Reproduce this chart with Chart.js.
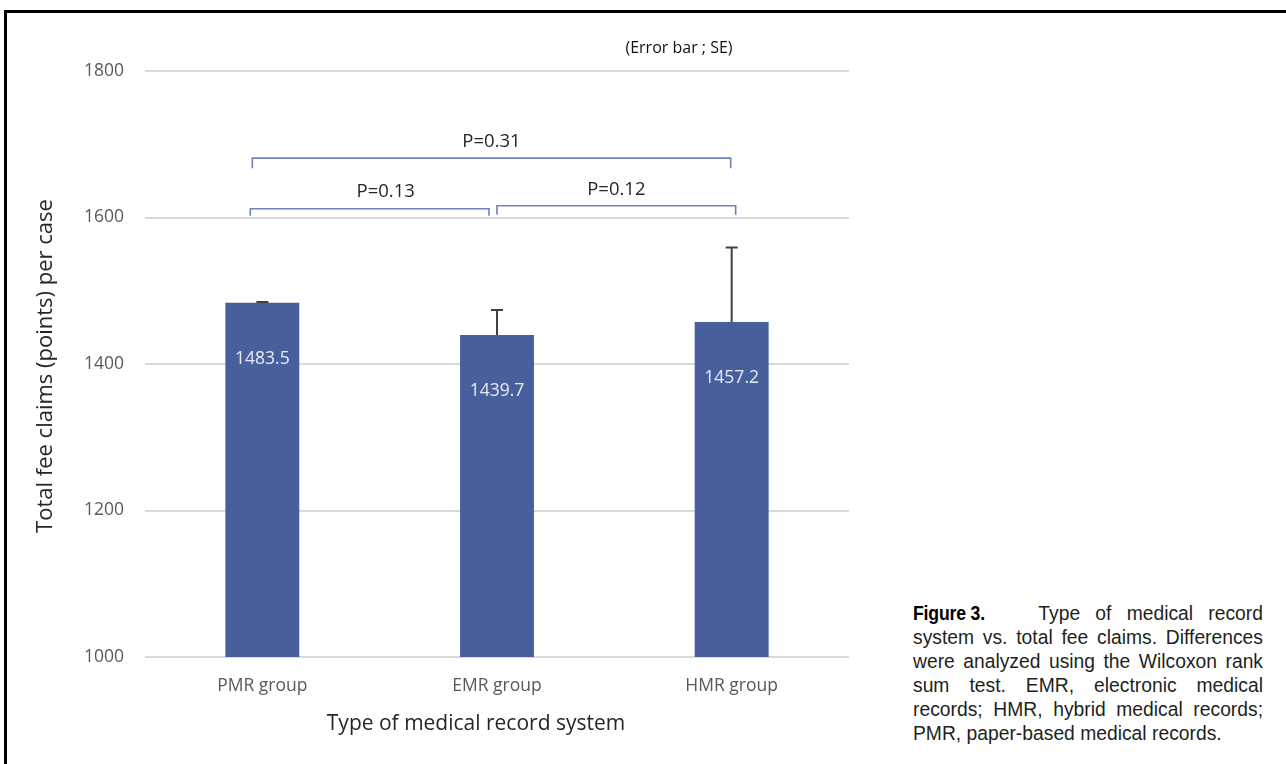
<!DOCTYPE html>
<html><head><meta charset="utf-8">
<script src="https://cdn.jsdelivr.net/npm/chart.js@4.4.0/dist/chart.umd.min.js"></script>
<style>
html,body{margin:0;padding:0;background:#fff;width:1286px;height:764px;overflow:hidden;}
#frame{position:absolute;left:4px;top:10px;width:1400px;height:900px;border:3px solid #000;box-sizing:border-box;}
#wrap{position:absolute;left:0;top:0;width:880px;height:764px;}
#caption{position:absolute;left:913px;top:601px;width:350px;font-family:"Liberation Sans",Arial,sans-serif;font-size:19.3px;line-height:24px;text-align:justify;color:#231f20;}
#fig{display:inline-block;width:80px;white-space:nowrap;vertical-align:baseline;}
#fig span{display:inline-block;font-weight:bold;font-size:20.5px;color:#000;transform:scaleX(0.86);transform-origin:left center;letter-spacing:-0.2px;}
</style></head>
<body>
<div id="frame"></div>
<div id="wrap"><canvas id="c" width="880" height="764"></canvas></div>
<div id="caption"><span id="fig"><span>Figure 3.</span></span>&nbsp;&nbsp; Type of medical record system vs. total fee claims. Differences were analyzed using the Wilcoxon rank sum test. EMR, electronic medical records; HMR, hybrid medical records; PMR, paper-based medical records.</div>
<script>
const categories = ['PMR group', 'EMR group', 'HMR group'];
const meanValues = [1483.5, 1439.7, 1457.2];
const seValues = [1, 34, 102];
const valueLabels = ['1483.5', '1439.7', '1457.2'];
const yTicks = [1000, 1200, 1400, 1600, 1800];
const compFrom = [0, 0, 1];
const compTo = [2, 1, 2];
const compLabels = ['P=0.31', 'P=0.13', 'P=0.12'];
const compLevels = [1681, 1612, 1616];

const FONT = '"Open Sans", "DejaVu Sans", sans-serif';
// styling nudges for the hand-drawn brackets (pixels)
const bracketStyle = [
  {dx1: -10, dx2: -1, tick: 10, tdx: 0, tdy: -16},
  {dx1: -12, dx2: -8, tick: 7, tdx: 16, tdy: -17},
  {dx1: 0, dx2: 4, tick: 9, tdx: 0, tdy: -16}
];

const overlay = {
  id: 'overlay',
  afterDatasetsDraw(chart) {
    const ctx = chart.ctx;
    const y = chart.scales.y;
    const area = chart.chartArea;
    const meta = chart.getDatasetMeta(0);
    ctx.save();
    // error bars
    ctx.strokeStyle = '#404040';
    ctx.lineWidth = 2;
    meta.data.forEach((bar, i) => {
      const top = y.getPixelForValue(meanValues[i] + seValues[i]);
      ctx.beginPath();
      ctx.moveTo(bar.x, bar.y);
      ctx.lineTo(bar.x, top);
      ctx.moveTo(bar.x - 6, top);
      ctx.lineTo(bar.x + 6, top);
      ctx.stroke();
    });
    // value labels inside bars
    ctx.fillStyle = '#e8ebf3';
    ctx.font = '17.5px ' + FONT;
    ctx.textAlign = 'center';
    ctx.textBaseline = 'middle';
    meta.data.forEach((bar, i) => {
      ctx.fillText(valueLabels[i], bar.x, bar.y + 56);
    });
    // significance brackets
    compLabels.forEach((lab, k) => {
      const st = bracketStyle[k];
      const x1 = meta.data[compFrom[k]].x + st.dx1;
      const x2 = meta.data[compTo[k]].x + st.dx2;
      const yl = y.getPixelForValue(compLevels[k]);
      ctx.strokeStyle = '#7081b6';
      ctx.lineWidth = 1.6;
      ctx.beginPath();
      ctx.moveTo(x1, yl + st.tick);
      ctx.lineTo(x1, yl);
      ctx.lineTo(x2, yl);
      ctx.lineTo(x2, yl + st.tick);
      ctx.stroke();
      ctx.fillStyle = '#262626';
      ctx.font = '18.5px ' + FONT;
      ctx.fillText(lab, (x1 + x2) / 2 + st.tdx, yl + st.tdy);
    });
    // note
    ctx.fillStyle = '#111';
    ctx.font = '16px ' + FONT;
    ctx.fillText('(Error bar ; SE)', 679, 48);
    // axis titles
    ctx.fillStyle = '#262626';
    ctx.font = '21px ' + FONT;
    ctx.fillText('Type of medical record system', 476, 724);
    ctx.font = '22px ' + FONT;
    ctx.translate(46, (area.top + area.bottom) / 2 + 2);
    ctx.rotate(-Math.PI / 2);
    ctx.fillText('Total fee claims (points) per case', 0, 0);
    ctx.restore();
  }
};

new Chart(document.getElementById('c'), {
  type: 'bar',
  data: {
    labels: categories,
    datasets: [{
      data: meanValues,
      backgroundColor: '#475f9c',
      borderWidth: 0,
      barPercentage: 0.315,
      categoryPercentage: 1
    }]
  },
  options: {
    responsive: false,
    animation: false,
    devicePixelRatio: 1,
    layout: {padding: {left: 0, top: 71, right: 31, bottom: 0}},
    plugins: {legend: {display: false}, tooltip: {enabled: false}},
    scales: {
      x: {
        grid: {display: false, drawTicks: false},
        border: {display: false},
        ticks: {color: '#595959', font: {family: FONT, size: 17.5}, padding: 19},
        afterFit(s) { s.height = 107; }
      },
      y: {
        min: 1000, max: 1800,
        afterBuildTicks(s) { s.ticks = yTicks.map(v => ({value: v})); },
        grid: {color: '#d9d9d9', lineWidth: 2, drawTicks: false},
        border: {display: false},
        ticks: {color: '#595959', font: {family: FONT, size: 17.5}, padding: 21,
                callback: v => String(v)},
        afterFit(s) { s.width = 145; }
      }
    }
  },
  plugins: [overlay]
});
</script>
</body></html>
